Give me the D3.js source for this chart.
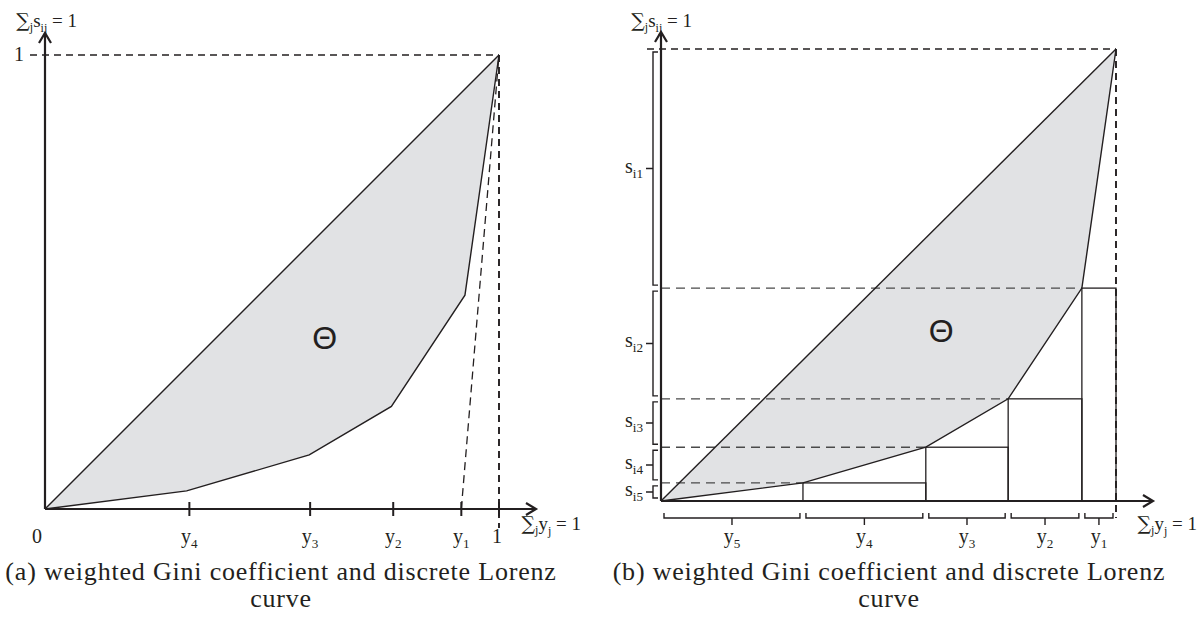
<!DOCTYPE html>
<html>
<head>
<meta charset="utf-8">
<script src="https://cdn.jsdelivr.net/npm/d3@7"></script>
<style>
  body { margin: 0; background: #fff; }
  text { font-family: "Liberation Serif", serif; fill: #231f20; }
</style>
</head>
<body>
<div id="chart"></div>
<script>
// cumulative shares of the discrete Lorenz curve
var cumY = [0, 0.312, 0.582, 0.763, 0.925, 1];   // sum of y_j
var cumS = [0, 0.040, 0.119, 0.226, 0.471, 1];   // sum of s_ij

// panel (a): ticks on the x axis
var tickA = [0.318, 0.584, 0.767, 0.917, 1];
var tickLabelA = ["y4", "y3", "y2", "y1", "1"];

// panel (b): segment labels
var segLabelB = ["y5", "y4", "y3", "y2", "y1"];
var shareLabelB = ["si5", "si4", "si3", "si2", "si1"];

var thetaPos = [0.616, 0.376];

var captionA = ["(a) weighted Gini coefficient and discrete Lorenz", "curve"];
var captionB = ["(b) weighted Gini coefficient and discrete Lorenz", "curve"];

var W = 1202, H = 623;
var ink = "#231f20";

var svg = d3.select("#chart")
  .append("svg")
    .attr("width", W)
    .attr("height", H);

// draw text with a subscript part: "y4" -> y + sub 4, "si1" -> s + sub i1
function subText(g, x, y, label, anchor, size) {
  var t = g.append("text")
    .attr("x", x).attr("y", y)
    .attr("text-anchor", anchor)
    .style("font-size", size + "px");
  if (label.length > 1 && /[a-z]/.test(label[0])) {
    t.append("tspan").text(label[0]);
    t.append("tspan").attr("dy", 5).style("font-size", (size * 0.66) + "px").text(label.slice(1));
  } else {
    t.text(label);
  }
  return t;
}

// sum labels: ∑_j s_ij = 1 / ∑_j y_j = 1  (right aligned at x)
function sumLabel(g, x, y, v, sub) {
  var t = g.append("text").attr("x", x).attr("y", y)
    .attr("text-anchor", "end").style("font-size", "19px");
  t.append("tspan").style("font-family", "'DejaVu Serif', serif").style("font-size", "19px").text("\u2211");
  t.append("tspan").attr("dy", 4).style("font-size", "12px").text("j");
  t.append("tspan").attr("dy", -4).text(v);
  t.append("tspan").attr("dy", 5).style("font-size", "12px").text(sub);
  t.append("tspan").attr("dy", -5).text(" = 1");
}

function arrowX(g, x, y) {
  g.append("path").attr("d", "M" + (x - 10) + "," + (y - 6) + "L" + x + "," + y + "L" + (x - 10) + "," + (y + 6))
    .attr("fill", "none").attr("stroke", ink).attr("stroke-width", 2.2);
}
function arrowY(g, x, y) {
  g.append("path").attr("d", "M" + (x - 6) + "," + (y + 10) + "L" + x + "," + y + "L" + (x + 6) + "," + (y + 10))
    .attr("fill", "none").attr("stroke", ink).attr("stroke-width", 2.2);
}

function drawPanel(opt) {
  var g = svg.append("g");
  var x = d3.scaleLinear().domain([0, 1]).range(opt.xr);
  var y = d3.scaleLinear().domain([0, 1]).range(opt.yr);
  var pts = cumY.map(function(d, i) { return [x(d), y(cumS[i])]; });
  var line = d3.line();

  // area between the equality line and the Lorenz curve
  g.append("path")
    .attr("d", line(pts) + "Z")
    .attr("fill", "#e1e2e4");

  // dashed frame at the top/right
  g.append("line")
    .attr("x1", opt.topDashStart).attr("x2", x(1))
    .attr("y1", y(1)).attr("y2", y(1))
    .attr("stroke", ink).attr("stroke-width", 1.7).attr("stroke-dasharray", "7,5");
  g.append("line")
    .attr("x1", x(1)).attr("x2", x(1))
    .attr("y1", y(1)).attr("y2", opt.rightDashEnd)
    .attr("stroke", ink).attr("stroke-width", 1.9).attr("stroke-dasharray", "7,5");

  if (opt.panel === "b") {
    // rectangles under the curve
    for (var i = 1; i < cumY.length - 1; i++) {
      g.append("rect")
        .attr("x", x(cumY[i])).attr("y", y(cumS[i]))
        .attr("width", x(cumY[i + 1]) - x(cumY[i]))
        .attr("height", y(0) - y(cumS[i]))
        .attr("fill", "none").attr("stroke", ink).attr("stroke-width", 1.3);
    }
    // dashed guides from the y axis to each vertex
    for (var k = 1; k < cumY.length - 1; k++) {
      g.append("line")
        .attr("x1", x(0)).attr("x2", x(cumY[k]))
        .attr("y1", y(cumS[k])).attr("y2", y(cumS[k]))
        .attr("stroke", "#4a4a4a").attr("stroke-width", 1.4).attr("stroke-dasharray", "9,6");
    }
  } else {
    // dashed line from y1 to the top corner
    g.append("line")
      .attr("x1", x(tickA[3])).attr("x2", x(1))
      .attr("y1", y(0)).attr("y2", y(1))
      .attr("stroke", ink).attr("stroke-width", 1.3).attr("stroke-dasharray", "8,5");
  }

  // equality line
  g.append("line")
    .attr("x1", x(0)).attr("y1", y(0)).attr("x2", x(1)).attr("y2", y(1))
    .attr("stroke", ink).attr("stroke-width", 1.4);
  // Lorenz curve
  g.append("path")
    .attr("d", line(pts))
    .attr("fill", "none").attr("stroke", ink).attr("stroke-width", 1.4);

  // axes
  g.append("line").attr("x1", x(0)).attr("x2", x(0)).attr("y1", y(0)).attr("y2", opt.yTip + 1)
    .attr("stroke", ink).attr("stroke-width", 2.2);
  g.append("line").attr("x1", x(0)).attr("x2", opt.xTip - 1).attr("y1", y(0)).attr("y2", y(0))
    .attr("stroke", ink).attr("stroke-width", 2.2);
  arrowY(g, x(0), opt.yTip);
  arrowX(g, opt.xTip, y(0));

  sumLabel(g, opt.yLabel[0], opt.yLabel[1], "s", "ij");
  sumLabel(g, opt.xLabel[0], opt.xLabel[1], "y", "j");

  // theta
  g.append("text")
    .attr("x", x(thetaPos[0])).attr("y", y(thetaPos[1]) + 11)
    .attr("text-anchor", "middle")
    .style("font-family", "'Liberation Sans', Arial, sans-serif")
    .style("font-size", "32px")
    .text("\u0398");

  if (opt.panel === "a") {
    tickA.forEach(function(d, i) {
      g.append("line").attr("x1", x(d)).attr("x2", x(d)).attr("y1", y(0) - 7).attr("y2", y(0) + 7)
        .attr("stroke", ink).attr("stroke-width", 2);
      subText(g, x(d) - (i === 4 ? 2 : 0), 543, tickLabelA[i], "middle", 20);
    });
    subText(g, x(0) - 8, 543, "0", "middle", 20);
    subText(g, 19, 61, "1", "middle", 20);
  } else {
    var inset = 3;
    // x brackets under the axis
    segLabelB.forEach(function(lab, i) {
      var a = x(cumY[i]) + inset, b = x(cumY[i + 1]) - inset, m = (a + b) / 2, yb = y(0) + 17;
      g.append("path")
        .attr("d", "M" + a + "," + (yb - 5) + "V" + yb + "H" + b + "V" + (yb - 5) + "M" + m + "," + yb + "v7")
        .attr("fill", "none").attr("stroke", ink).attr("stroke-width", 1.4);
      subText(g, m, 543, lab, "middle", 20);
    });
    // y brackets left of the axis
    shareLabelB.forEach(function(lab, i) {
      var a = y(cumS[i]) - inset, b = y(cumS[i + 1]) + inset, m = (a + b) / 2, xb = x(0) - 8;
      g.append("path")
        .attr("d", "M" + (xb + 5) + "," + a + "H" + xb + "V" + b + "H" + (xb + 5) + "M" + xb + "," + m + "h-7")
        .attr("fill", "none").attr("stroke", ink).attr("stroke-width", 1.4);
      subText(g, xb - 10, m + 4, lab, "end", 20);
    });
  }

  // caption
  opt.caption.forEach(function(c, i) {
    g.append("text")
      .attr("x", opt.capX).attr("y", 580 + i * 27)
      .attr("text-anchor", "middle")
      .style("font-size", "26px")
      .style("letter-spacing", "0.8px")
      .text(c);
  });
}

drawPanel({
  panel: "a", xr: [45, 499], yr: [509, 55],
  topDashStart: 30, rightDashEnd: 528, xTip: 536, yTip: 33,
  yLabel: [77, 27], xLabel: [581, 530],
  caption: captionA, capX: 281
});
drawPanel({
  panel: "b", xr: [661, 1116], yr: [501, 49],
  topDashStart: 647, rightDashEnd: 518, xTip: 1153, yTip: 32,
  yLabel: [692, 27], xLabel: [1197, 530],
  caption: captionB, capX: 889
});
</script>
</body>
</html>
